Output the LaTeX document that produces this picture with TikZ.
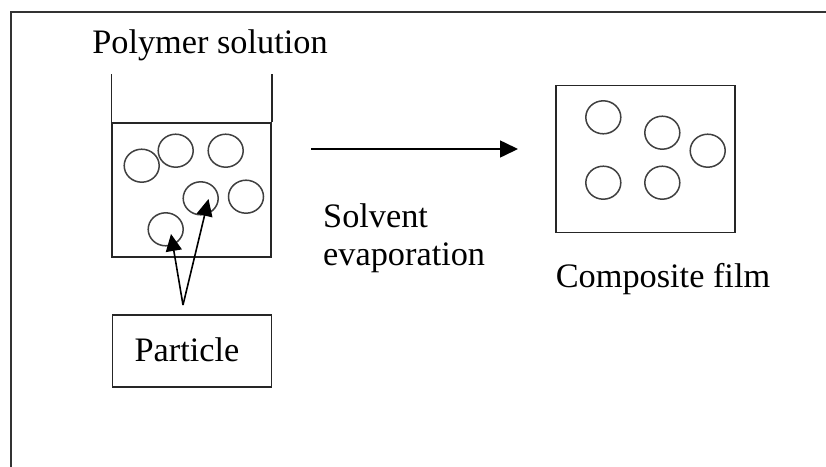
\documentclass[tikz,border=0pt]{standalone}
\usepackage{fontspec}
\setmainfont{Liberation Serif}
\usetikzlibrary{arrows.meta,shapes.geometric}
\tikzset{
  frameline/.style={line width=1.2pt, draw=black!80},
  wall/.style={line width=1.5pt, draw=black!85},
  bead/.style={ellipse, draw=black!75, line width=1.5pt, minimum width=35pt, minimum height=33pt, inner sep=0pt},
  label/.style={font=\fontsize{34.3}{39}\selectfont, inner sep=0pt},
  feed/.style={line width=1.6pt, -{Triangle[length=17pt,width=16pt]}},
  bigfeed/.style={line width=1.6pt, -{Triangle[length=18pt,width=17pt]}},
}
\begin{document}
\begin{tikzpicture}[x=1pt,y=-1pt]
\useasboundingbox (0,0) rectangle (826,466);
\fill[white] (0,0) rectangle (826,466);

% open outer frame
\draw[frameline] (11,470) -- (11,12) -- (826,12);

% heading
\node[label, anchor=base] (title) at (210,53) {Polymer solution};

% beaker with liquid
\node[wall, draw, rectangle, minimum width=159pt, minimum height=134pt, inner sep=0pt] (liquid) at (191.5,190) {};
\draw[wall] (liquid.north west) -- ++(0,-48);
\draw[wall] (liquid.north east) -- ++(0,-48);

% particles in solution
\node[bead] (p1) at (141.7,165.7) {};
\node[bead] (p2) at (175.7,150.7) {};
\node[bead] (p3) at (225.7,150.7) {};
\node[bead] (p4) at (200.7,198.3) {};
\node[bead] (p5) at (246,196.7) {};
\node[bead] (p6) at (165.7,229.3) {};

% particle label and pointers
\node[wall, draw, rectangle, minimum width=159pt, minimum height=72pt, inner sep=0pt] (pbox) at (192,351) {};
\node[label] (ptext) at (187,350) {Particle};
\coordinate (apex) at (183,305);
\coordinate (tipA) at (171,234);
\coordinate (tipB) at (208.5,199);
\draw[feed] (apex) -- (tipA);
\draw[feed] (apex) -- (tipB);

% process arrow
\coordinate (arrowstart) at (311,149);
\coordinate (arrowend) at (518,149);
\draw[bigfeed] (arrowstart) -- (arrowend);
\node[label, anchor=base west] (solv) at (323,227) {Solvent};
\node[label, anchor=base west] (evap) at (323,265) {evaporation};

% composite film
\node[wall, draw, rectangle, minimum width=179pt, minimum height=147pt, inner sep=0pt] (film) at (645.5,159) {};
\node[bead] (f1) at (603.3,117.3) {};
\node[bead] (f2) at (662.3,132.7) {};
\node[bead] (f3) at (707.7,150.7) {};
\node[bead] (f4) at (603.3,182.7) {};
\node[bead] (f5) at (662.3,182.7) {};
\node[label, anchor=base] (ftext) at (663,287) {Composite film};
\end{tikzpicture}
\end{document}
